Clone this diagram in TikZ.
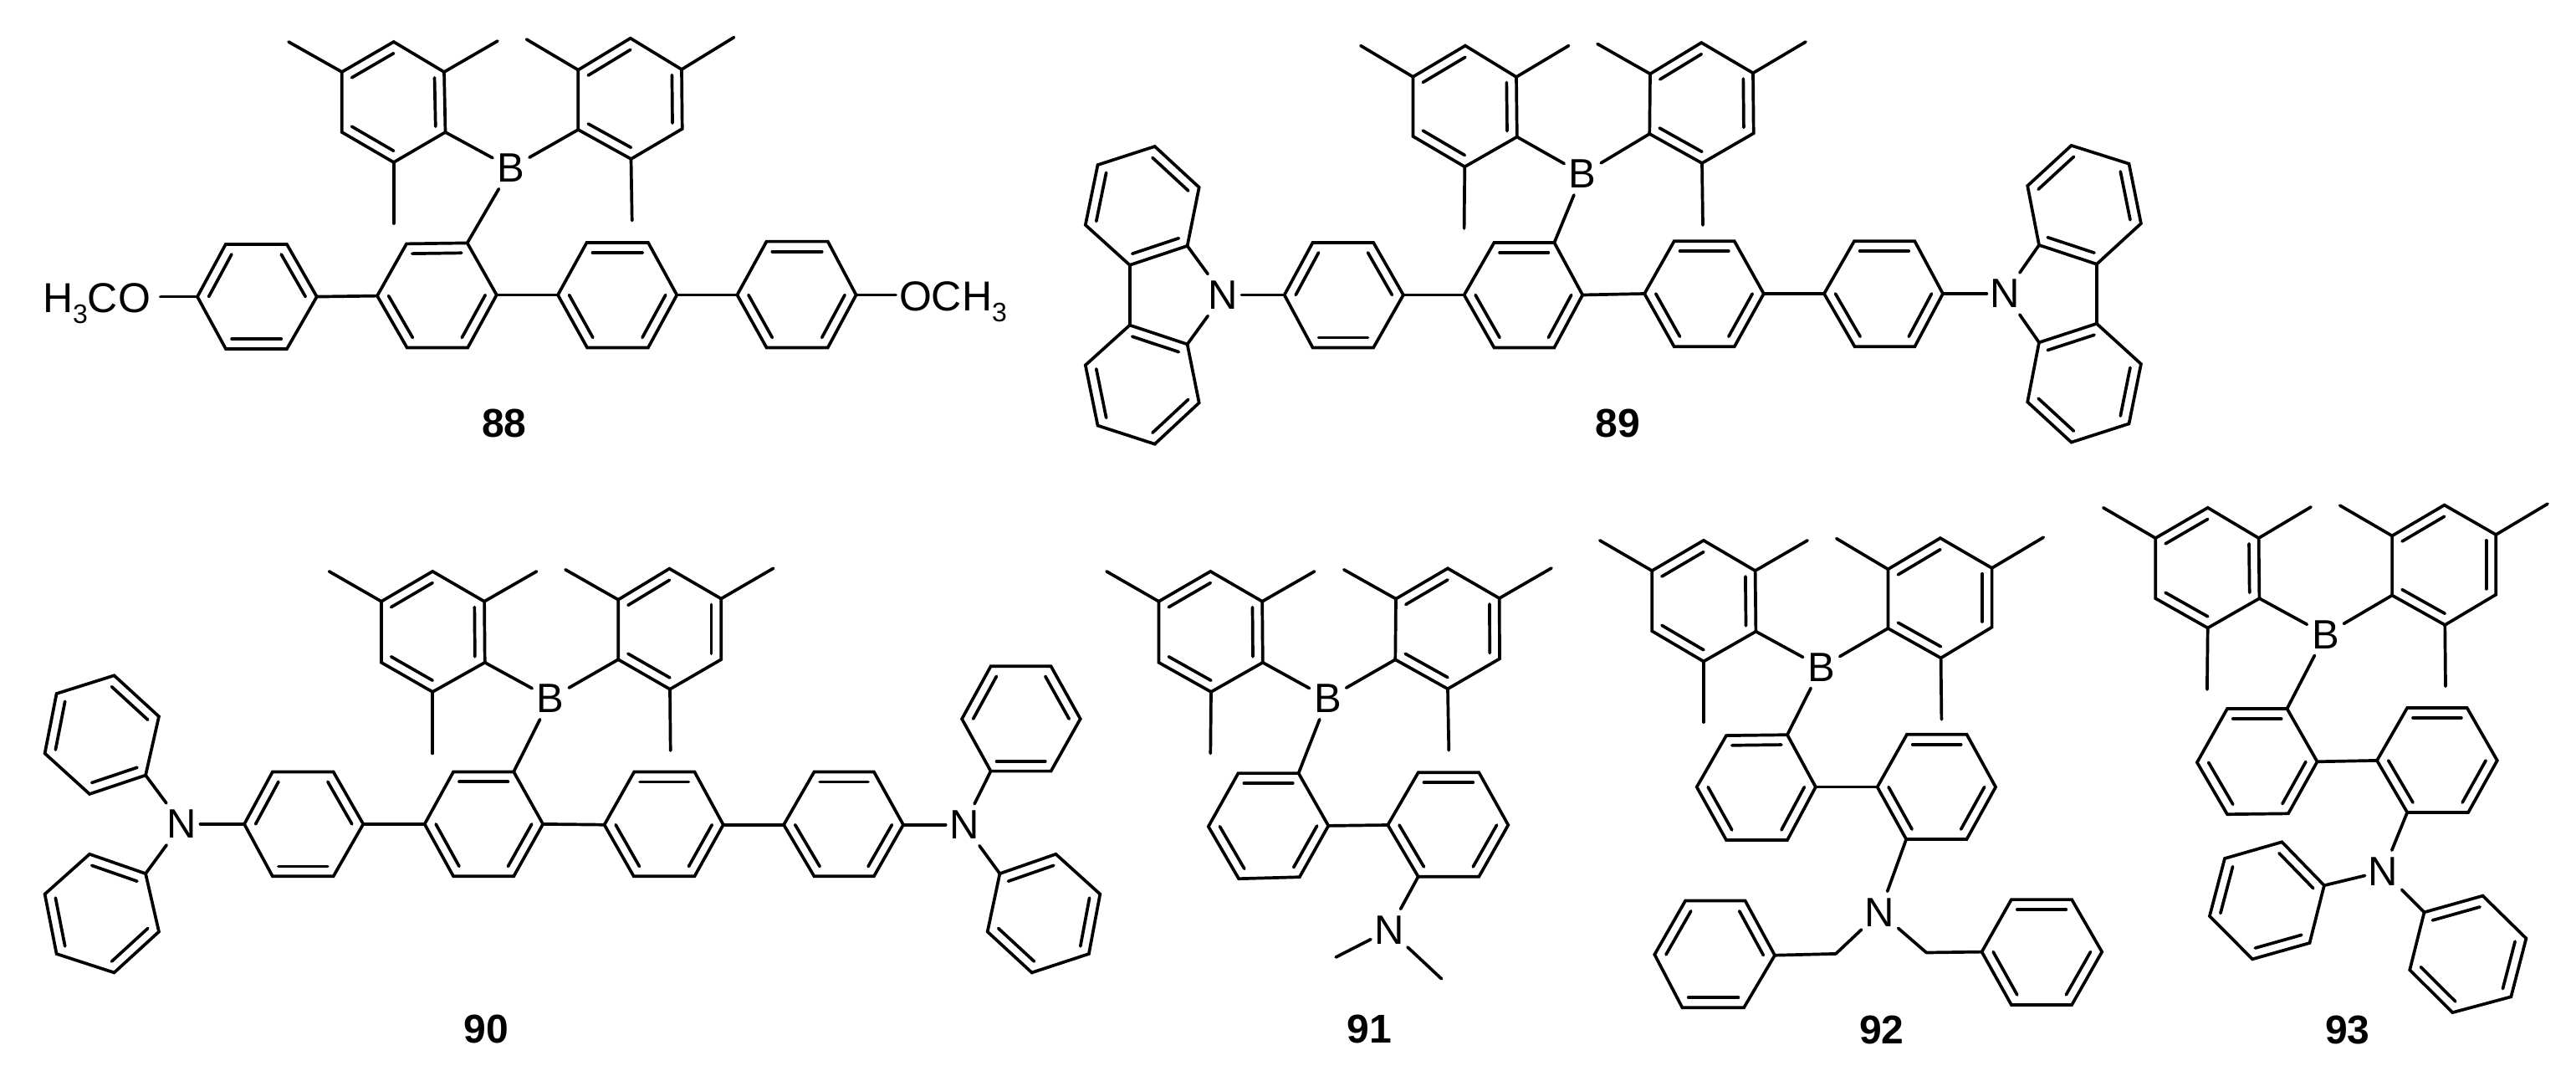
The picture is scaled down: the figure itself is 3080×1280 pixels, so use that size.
\documentclass[tikz,border=0pt]{standalone}
\usepackage{fontspec}
\setmainfont{Liberation Sans}
\tikzset{
  bond/.style={line width=1.85pt,line cap=round,line join=miter,miter limit=4},
  atomlab/.style={rectangle,inner sep=0pt,outer sep=0pt,minimum width=22pt,minimum height=25pt,font=\fontsize{24.5}{27}\selectfont},
  grouplab/.style={inner ysep=0pt,outer sep=0pt,font=\fontsize{25}{27}\selectfont},
  cmpdlab/.style={inner sep=0pt,outer sep=0pt,font=\fontsize{24}{27}\selectfont\bfseries}
}
\newcommand{\sbthree}{\raisebox{-6.5pt}{\fontsize{16}{17}\selectfont 3}}
% name, six vertices in ring order, inner double-bond edges
\newcommand{\ring}[8]{%
  \coordinate (#1-1) at (#2);\coordinate (#1-2) at (#3);\coordinate (#1-3) at (#4);
  \coordinate (#1-4) at (#5);\coordinate (#1-5) at (#6);\coordinate (#1-6) at (#7);
  \coordinate (#1-c) at ($(#1-1)!.5!(#1-4)$);
  \draw[bond] (#1-1)--(#1-2)--(#1-3)--(#1-4)--(#1-5)--(#1-6)--cycle;
  \foreach \i/\j in {#8}{\draw[bond] ($(#1-\i)!.19!(#1-c)$) -- ($(#1-\j)!.19!(#1-c)$);}%
}
\newcommand{\mes}[7]{\ring{#1}{#2}{#3}{#4}{#5}{#6}{#7}{6/1,2/3,4/5}}
% methyl ends: from UL, UR and bottom vertices
\newcommand{\mth}[4]{%
  \coordinate (#1-ma) at (#2);\coordinate (#1-mb) at (#3);\coordinate (#1-mc) at (#4);
  \draw[bond] (#1-6)--(#1-ma);\draw[bond] (#1-2)--(#1-mb);\draw[bond] (#1-4)--(#1-mc);}
\newcommand{\ringT}[7]{\ring{#1}{#2}{#3}{#4}{#5}{#6}{#7}{1/2,3/4,5/6}}
\newcommand{\ringC}[7]{\ring{#1}{#2}{#3}{#4}{#5}{#6}{#7}{2/3,1/6,4/5}}
\usetikzlibrary{calc}
\begin{document}
\begin{tikzpicture}[x=0.5pt,y=-0.5pt]
\path[use as bounding box,fill=white] (0,0) rectangle (3080,1280);

%% ---------- 88
\mes{a1}{470.7,50}{531,86}{532.5,158}{470.7,194}{408.8,158}{408.8,86}
\mth{a1}{345,50}{595,49}{470.7,267}
\mes{a2}{753.8,45.7}{815,83}{815.7,154}{754.5,190}{691.3,155}{691.3,83.6}
\mth{a2}{629.5,47}{877.6,44.6}{755.7,263.6}
\node[atomlab] (Ba) at (611,200.7) {B};
\ringT{aA}{236,354.6}{269.8,292}{343,292}{378.8,354.6}{343,417}{270,417}
\ringC{aB}{451,353.6}{486,291.4}{558.7,290.4}{593.8,352.5}{559.3,415.4}{486.6,415.4}
\ringC{aC}{667,352.5}{701.5,290}{775,290}{809.3,352.5}{775,415.4}{702,415.4}
\ringC{aD}{881.4,352.5}{916.5,288.6}{989.8,288.6}{1023.6,352.5}{989.8,415.4}{916.5,415.4}
\draw[bond] (a1-3)--(Ba);\draw[bond] (a2-5)--(Ba);\draw[bond] (aB-3)--(Ba);
\draw[bond] (aA-4)--(aB-1);\draw[bond] (aB-4)--(aC-1);\draw[bond] (aC-4)--(aD-1);
\node[grouplab,inner xsep=6pt,anchor=base west] (omeL) at (39,373) {H\sbthree CO};
\node[grouplab,inner xsep=2pt,anchor=base west] (omeR) at (1071,371) {OCH\sbthree};
\draw[bond] (aA-1)--(omeL.east |- aA-1);
\draw[bond] (aD-4)--(omeR.west |- aD-4);
\node[cmpdlab] (l88) at (602.7,506.4) {88};

%% ---------- 89
\mes{b1}{1751.9,54.6}{1813,92}{1813.8,163.6}{1751.3,199.3}{1689.4,162.9}{1689.4,91.8}
\mth{b1}{1626.9,54.6}{1875.6,54.6}{1750.6,273}
\mes{b2}{2034.3,51}{2096,87.3}{2096.7,159.3}{2035,195}{1972.3,160}{1973,88.3}
\mth{b2}{1910,52.5}{2159,50}{2036,269}
\node[atomlab] (Bb) at (1892.2,208) {B};
\ringT{bE}{1535.7,352.5}{1569.5,290}{1642.2,290}{1677.9,352.5}{1642.2,415.4}{1569.5,415.4}
\ringC{bF}{1750.6,352.5}{1786.4,290}{1858.4,290}{1892.2,352.5}{1858.4,415.4}{1786.4,415.4}
\ringC{bG}{1966.2,351}{2001.7,288.2}{2073.7,288.2}{2108.8,351}{2073.7,414.3}{2001.7,414.3}
\ringC{bH}{2181,351}{2217,288.2}{2289.3,288.2}{2323,351}{2289.3,414.3}{2217.6,414.3}
\draw[bond] (b1-3)--(Bb);\draw[bond] (b2-5)--(Bb);\draw[bond] (bF-3)--(Bb);
\draw[bond] (bE-4)--(bF-1);\draw[bond] (bF-4)--(bG-1);\draw[bond] (bG-4)--(bH-1);
\node[atomlab] (Nb1) at (1462.4,352.5) {N};
\node[atomlab] (Nb2) at (2397.4,351) {N};
\ringT{bLu}{1419.6,293.9}{1350.8,316.8}{1297.8,268.9}{1312.5,197.1}{1380.7,175}{1433.7,223.9}
\ringT{bLd}{1419.6,411.4}{1350.8,388.6}{1297.8,436.4}{1312.5,508.6}{1380.7,530.7}{1433.7,481.4}
\ringT{bRu}{2438,292.9}{2506.9,315.7}{2559.9,267.1}{2545.5,195.7}{2476.6,173.9}{2424.2,222.1}
\ringT{bRd}{2438,409.3}{2506.9,386.8}{2559.9,435}{2545.5,506.4}{2476.6,528.6}{2424.2,480.4}
\draw[bond] (bLu-2)--(bLd-2);\draw[bond] (bRu-2)--(bRd-2);
\draw[bond] (bLu-1)--(Nb1);\draw[bond] (bLd-1)--(Nb1);\draw[bond] (bE-1)--(Nb1);
\draw[bond] (bRu-1)--(Nb2);\draw[bond] (bRd-1)--(Nb2);\draw[bond] (bH-4)--(Nb2);
\node[cmpdlab] (l89) at (1934.3,506.4) {89};

%% ---------- 90
\mes{c1}{517.2,682.9}{579.1,718.8}{579.7,791.8}{517.2,826.9}{456,791.8}{456,718.8}
\mth{c1}{393.5,682.9}{641.6,682.9}{517.2,900.4}
\mes{c2}{800.4,679.6}{862.2,715.5}{862.2,788.2}{801,823.7}{739.2,788.2}{739.2,716.7}
\mth{c2}{676,680.8}{924.7,679.2}{801.7,897.1}
\node[atomlab] (Bc) at (658.2,834.7) {B};
\ringT{cA}{292.1,984.9}{325.9,922.4}{398.6,922.4}{434.3,984.9}{398.6,1047.3}{325.9,1047.3}
\ringC{cB}{507.7,984.9}{542.1,922.4}{614.2,922.4}{649.2,984.9}{614.2,1047.3}{542.1,1047.3}
\ringC{cC}{722.6,985.7}{758.3,922.4}{830.4,922.4}{864.8,985.7}{830.4,1047.3}{757.7,1047.3}
\ringC{cD}{937.1,985.7}{973.5,922.4}{1044.9,922.4}{1080,985.7}{1044.9,1047.3}{973.5,1047.3}
\draw[bond] (c1-3)--(Bc);\draw[bond] (c2-5)--(Bc);\draw[bond] (cB-3)--(Bc);
\draw[bond] (cA-4)--(cB-1);\draw[bond] (cB-4)--(cC-1);\draw[bond] (cC-4)--(cD-1);
\node[atomlab] (Nc1) at (217.5,984.9) {N};
\node[atomlab] (Nc2) at (1152.7,985.7) {N};
\ringT{cLu}{174.1,926.5}{107.1,949}{53.6,900.4}{67.6,829}{136.5,807.3}{190,856.3}
\ringT{cLd}{174.1,1044.1}{107.1,1020.8}{53.6,1068.6}{67.6,1140}{136.5,1162.4}{190,1113.5}
\ringT{cRu}{1150.1,859.2}{1184.6,796.3}{1256.6,796.3}{1291.7,859.2}{1256.6,921.6}{1184.6,921.6}
\ringT{cRd}{1195.4,1044.1}{1262.4,1020.8}{1315.3,1068.6}{1301.9,1140}{1233.7,1162.4}{1180.7,1113.5}
\draw[bond] (cLu-1)--(Nc1);\draw[bond] (cLd-1)--(Nc1);\draw[bond] (cA-1)--(Nc1);
\draw[bond] (cRu-6)--(Nc2);\draw[bond] (cRd-1)--(Nc2);\draw[bond] (cD-4)--(Nc2);
\node[cmpdlab] (l90) at (581.6,1229.8) {90};

%% ---------- 91
\mes{d1}{1447.3,682.9}{1509.2,718.8}{1509.8,791.8}{1448,826.9}{1385.5,791.8}{1385.5,718.8}
\mth{d1}{1323,682.9}{1571.7,682.9}{1447.3,900.4}
\mes{d2}{1731,679.3}{1792.7,715}{1793,787.3}{1731,823.3}{1668.3,788.3}{1669,715.7}
\mth{d2}{1606.8,680.8}{1855,679}{1732.3,896.7}
\node[atomlab] (Bd) at (1587.6,834.7) {B};
\ringC{dA}{1444.8,987.8}{1480.5,924.1}{1552.6,924.1}{1588.3,986.9}{1553.8,1048.2}{1481.1,1050.2}
\ringC{dB}{1659.3,986}{1695.7,923.3}{1768.3,923.3}{1803.3,986}{1768.3,1047.7}{1695.7,1047.7}
\draw[bond] (d1-3)--(Bd);\draw[bond] (d2-5)--(Bd);\draw[bond] (dA-3)--(Bd);
\draw[bond] (dA-4)--(dB-1);
\node[atomlab] (Nd) at (1661,1111.4) {N};
\coordinate (dM1) at (1597.2,1144);
\coordinate (dM2) at (1723.5,1169.8);
\draw[bond] (dB-6)--(Nd);\draw[bond] (dM1)--(Nd);\draw[bond] (dM2)--(Nd);
\node[cmpdlab] (l91) at (1637.4,1229.8) {91};

%% ---------- 92
\mes{e1}{2036.9,645.9}{2098.6,682.1}{2099.4,754.7}{2036.9,790.5}{1975.2,754.2}{1975.2,682.1}
\mth{e1}{1912.8,645.9}{2161.1,645.9}{2036.9,863}
\mes{e2}{2319.9,643.1}{2381.6,678.9}{2381.6,749.6}{2320.6,786.4}{2257.4,751}{2257.4,680.3}
\mth{e2}{2195.7,643.6}{2443.3,642.2}{2321.4,859.8}
\node[atomlab] (Be) at (2177.7,797.4) {B};
\ringC{eA}{2028.7,940.6}{2064,879.1}{2137,878.2}{2170.9,940.6}{2137,1004}{2064,1004}
\ringC{eB}{2244.6,940.6}{2280,877.7}{2351.5,877.7}{2386.1,940.6}{2351.5,1003}{2279.2,1003}
\draw[bond] (e1-3)--(Be);\draw[bond] (e2-5)--(Be);\draw[bond] (eA-3)--(Be);
\draw[bond] (eA-4)--(eB-1);
\node[atomlab] (Ne) at (2247.6,1090.3) {N};
\ringT{eL}{1978.3,1140.8}{2015.1,1076.5}{2086.6,1076.5}{2122,1141.7}{2085.1,1204.2}{2011.4,1204.2}
\ringC{eR}{2369.5,1137.6}{2404.9,1075.1}{2477.1,1075.1}{2513.2,1137.6}{2477.1,1201}{2404.9,1201}
\coordinate (eCa) at (2195,1139.9);
\coordinate (eCb) at (2303.3,1138.5);
\draw[bond] (eB-6)--(Ne);\draw[bond] (eCa)--(Ne);\draw[bond] (eCb)--(Ne);
\draw[bond] (eCa)--(eL-4);\draw[bond] (eCb)--(eR-1);
\node[cmpdlab] (l92) at (2249.9,1231.3) {92};

%% ---------- 93
\mes{f1}{2639.7,606.8}{2700.6,643.1}{2701.4,715.2}{2639.7,750.5}{2577.2,715.2}{2577.2,643.1}
\mth{f1}{2514.8,606.8}{2763.1,605.9}{2638.9,824}
\mes{f2}{2922.6,603.6}{2984.3,639}{2984.3,710.6}{2923.3,746.9}{2860.1,711.5}{2860.1,640.4}
\mth{f2}{2797.7,604.1}{3046,602.2}{2924,820.3}
\node[atomlab] (Bf) at (2780.4,758.3) {B};
\ringC{fA}{2626.9,911.2}{2663,847}{2734.5,847}{2770.6,910.3}{2736,972.3}{2663,973.2}
\ringC{fB}{2842,908.9}{2878.2,846}{2949.7,846}{2985.8,908.9}{2951.2,970.9}{2878.2,970.9}
\draw[bond] (f1-3)--(Bf);\draw[bond] (f2-5)--(Bf);\draw[bond] (fA-3)--(Bf);
\draw[bond] (fA-4)--(fB-1);
\node[atomlab] (Nf) at (2849.6,1041.2) {N};
\ringT{fL}{2778.9,1058.2}{2728.4,1006.3}{2660,1026}{2641.9,1094.9}{2693.1,1146.3}{2761.5,1127}
\ringT{fR}{2898.5,1090.3}{2968.5,1070.6}{3020.4,1121.5}{3002.3,1191.3}{2932.4,1210.1}{2881.2,1159.2}
\draw[bond] (fB-6)--(Nf);\draw[bond] (fL-1)--(Nf);\draw[bond] (fR-1)--(Nf);
\node[cmpdlab] (l93) at (2806.7,1231.3) {93};
\end{tikzpicture}
\end{document}
